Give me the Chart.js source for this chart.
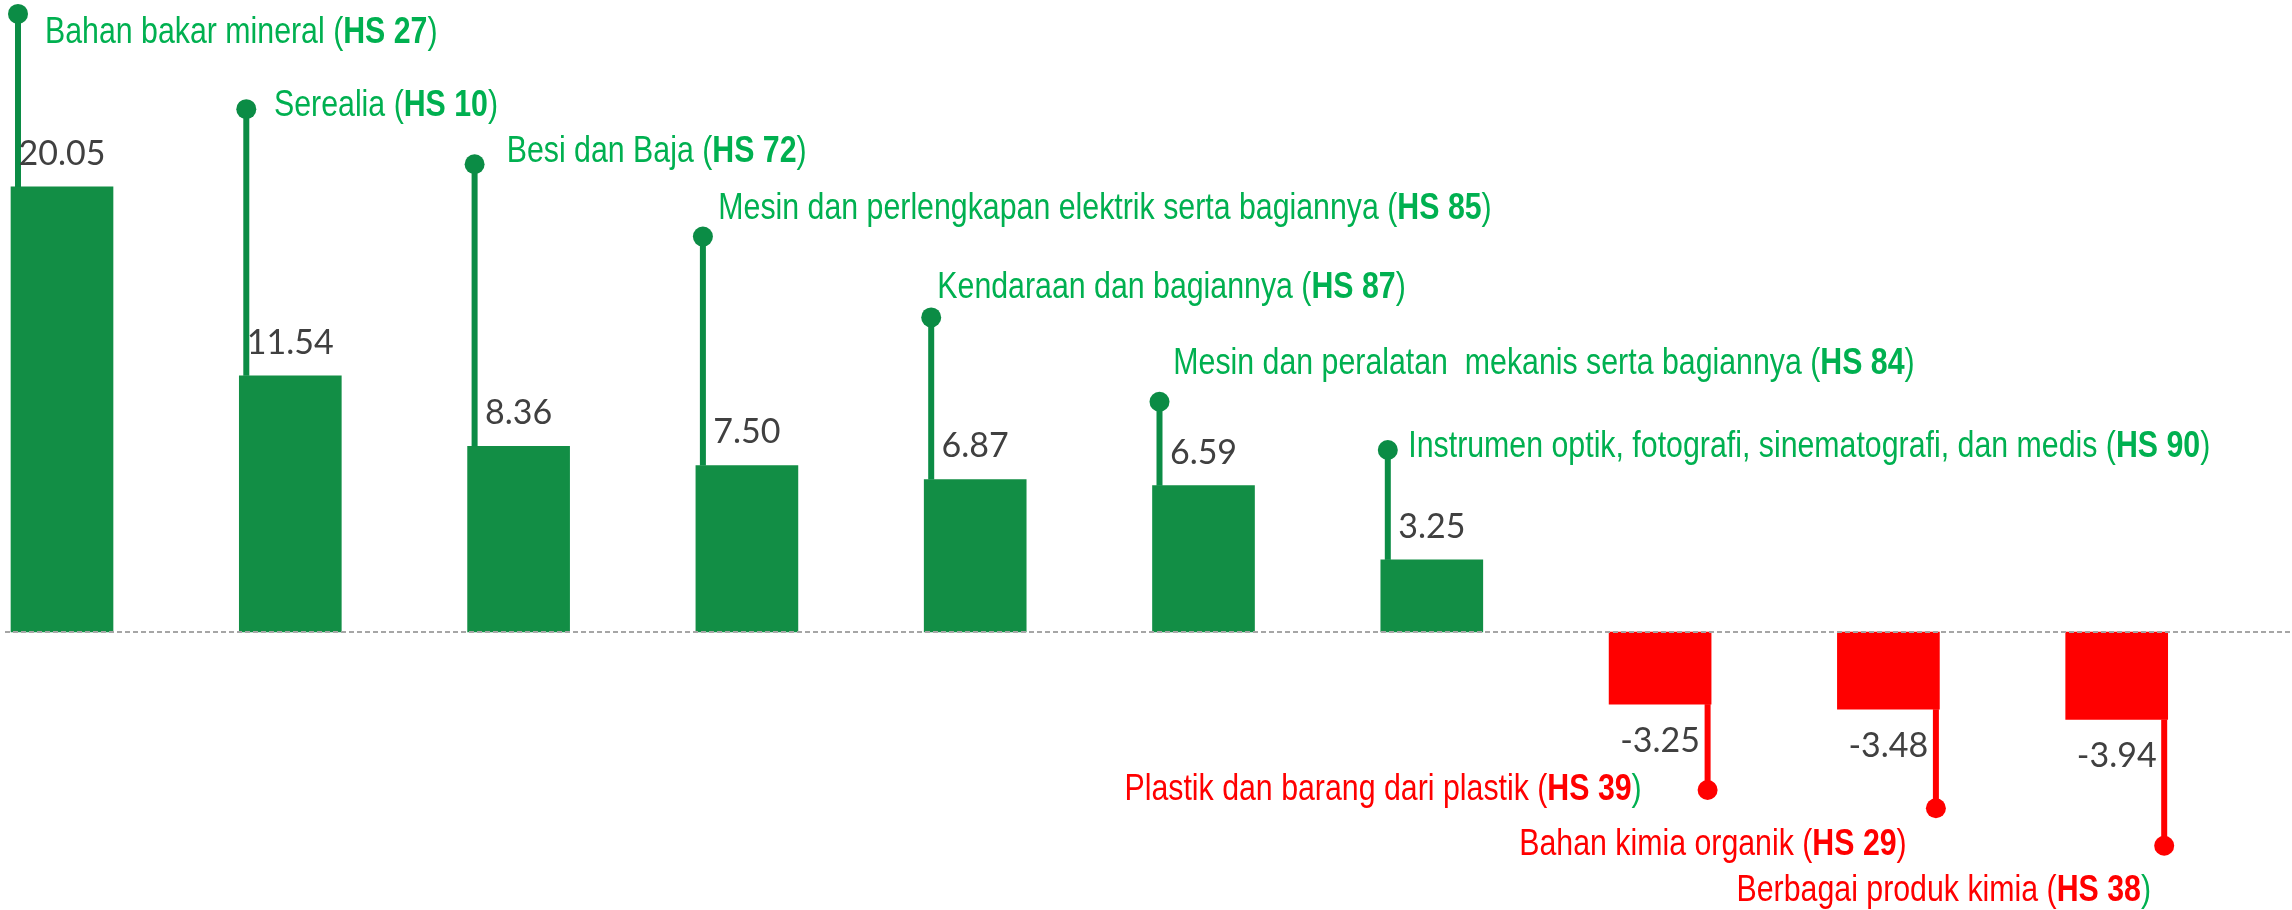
<!DOCTYPE html>
<html>
<head>
<meta charset="utf-8">
<script src="https://cdn.jsdelivr.net/npm/chart.js@4.4.1/dist/chart.umd.min.js"></script>
<style>
  html, body { margin: 0; padding: 0; background: #ffffff; }
  #wrap { position: relative; width: 2292px; height: 910px; }
</style>
</head>
<body>
<div id="wrap"><canvas id="tradeChart"></canvas></div>
<script>
const NAMES = [
  "Bahan bakar mineral",
  "Serealia",
  "Besi dan Baja",
  "Mesin dan perlengkapan elektrik serta bagiannya",
  "Kendaraan dan bagiannya",
  "Mesin dan peralatan  mekanis serta bagiannya",
  "Instrumen optik, fotografi, sinematografi, dan medis",
  "Plastik dan barang dari plastik",
  "Bahan kimia organik",
  "Berbagai produk kimia"
];
const HS_CODES = ["27", "10", "72", "85", "87", "84", "90", "39", "29", "38"];
const VALUES = [20.05, 11.54, 8.36, 7.50, 6.87, 6.59, 3.25, -3.25, -3.48, -3.94];

const GREEN_BAR = "#128E45";
const GREEN_STEM = "#0B8C45";
const GREEN_TEXT = "#00B050";
const RED = "#FF0000";
const VALUE_GREY = "#404040";

const LABEL_FONT = "36px 'Liberation Sans', Arial, sans-serif";
const LABEL_BOLD = "bold 36px 'Liberation Sans', Arial, sans-serif";
const LABEL_SQUEEZE = 0.842;   // narrow face: Arial metrics squeezed horizontally
const VALUE_FONT = "34px Lato, 'Open Sans', sans-serif";

// stem tip in axis units, label offset from bar centre (dx) and from the dot (dy)
const CALLOUTS = [
  { tip: 27.84, dx: -17.0, dy: 28.7 },
  { tip: 23.55, dx: -16.3, dy: 6.4 },
  { tip: 21.07, dx: -11.9, dy: -2.6 },
  { tip: 17.81, dx: -28.6, dy: -17.4 },
  { tip: 14.17, dx: -37.9, dy: -19.8 },
  { tip: 10.37, dx: -30.2, dy: -27.7 },
  { tip: 8.20, dx: -23.5, dy: 6.7 },
  { tip: -7.12, dx: -18.4, dy: 10.0, close: GREEN_TEXT },
  { tip: -7.94, dx: 18.3, dy: 46.7 },
  { tip: -9.63, dx: 34.3, dy: 55.0, close: GREEN_TEXT }
];

function drawRuns(ctx, runs, x, y, align) {
  let total = 0;
  runs.forEach(r => { ctx.font = r.font; r.w = ctx.measureText(r.text).width; total += r.w; });
  const start = align === "right" ? x - total * LABEL_SQUEEZE : x;
  ctx.save();
  ctx.translate(start, y);
  ctx.scale(LABEL_SQUEEZE, 1);
  ctx.textAlign = "left";
  ctx.textBaseline = "alphabetic";
  let cx = 0;
  runs.forEach(r => {
    ctx.font = r.font;
    ctx.fillStyle = r.color;
    ctx.fillText(r.text, cx, 0);
    cx += r.w;
  });
  ctx.restore();
}

const calloutPlugin = {
  id: "callouts",
  afterDatasetsDraw(chart) {
    const { ctx, scales: { y } } = chart;
    const bars = chart.getDatasetMeta(0).data;
    const y0 = y.getPixelForValue(0);

    ctx.save();
    // dashed zero line across the whole width
    ctx.strokeStyle = "#A6A6A6";
    ctx.lineWidth = 2;
    ctx.setLineDash([5, 3]);
    ctx.beginPath();
    ctx.moveTo(5, y0);
    ctx.lineTo(chart.width, y0);
    ctx.stroke();
    ctx.setLineDash([]);

    bars.forEach((bar, i) => {
      const up = VALUES[i] >= 0;
      const half = bar.width / 2;
      const c = CALLOUTS[i];
      const sx = up ? bar.x - half + 7 : bar.x + half - 3.5;
      const tipY = y.getPixelForValue(c.tip);
      const stemColor = up ? GREEN_STEM : RED;

      // stem + dot
      ctx.strokeStyle = stemColor;
      ctx.lineWidth = 6;
      ctx.beginPath();
      ctx.moveTo(sx, bar.y);
      ctx.lineTo(sx, tipY);
      ctx.stroke();
      ctx.fillStyle = stemColor;
      ctx.beginPath();
      ctx.arc(sx, tipY, 10, 0, Math.PI * 2);
      ctx.fill();

      // value label
      ctx.font = VALUE_FONT;
      ctx.fillStyle = VALUE_GREY;
      ctx.textAlign = "center";
      ctx.textBaseline = "alphabetic";
      ctx.fillText(VALUES[i].toFixed(2), bar.x, up ? bar.y - 22 : bar.y + 48);

      // category label
      const col = up ? GREEN_TEXT : RED;
      drawRuns(ctx, [
        { text: NAMES[i] + " (", font: LABEL_FONT, color: col },
        { text: "HS " + HS_CODES[i], font: LABEL_BOLD, color: col },
        { text: ")", font: LABEL_FONT, color: c.close || col }
      ], bar.x + c.dx, tipY + c.dy, up ? "left" : "right");
    });
    ctx.restore();
  }
};

const ctx = document.getElementById("tradeChart").getContext("2d");
new Chart(ctx, {
  type: "bar",
  data: {
    labels: NAMES,
    datasets: [{
      data: VALUES,
      backgroundColor: VALUES.map(v => v >= 0 ? GREEN_BAR : RED),
      borderWidth: 0,
      barThickness: 102,
      clip: false
    }]
  },
  options: {
    responsive: true,
    maintainAspectRatio: false,
    animation: false,
    layout: { padding: { left: 62, right: 175.3, top: 0, bottom: 0 } },
    scales: {
      x: { display: false, offset: false, grid: { offset: false } },
      y: { display: false, min: -12.523, max: 28.468 }
    },
    plugins: {
      legend: { display: false },
      tooltip: { enabled: false }
    }
  },
  plugins: [calloutPlugin]
});
</script>
</body>
</html>
